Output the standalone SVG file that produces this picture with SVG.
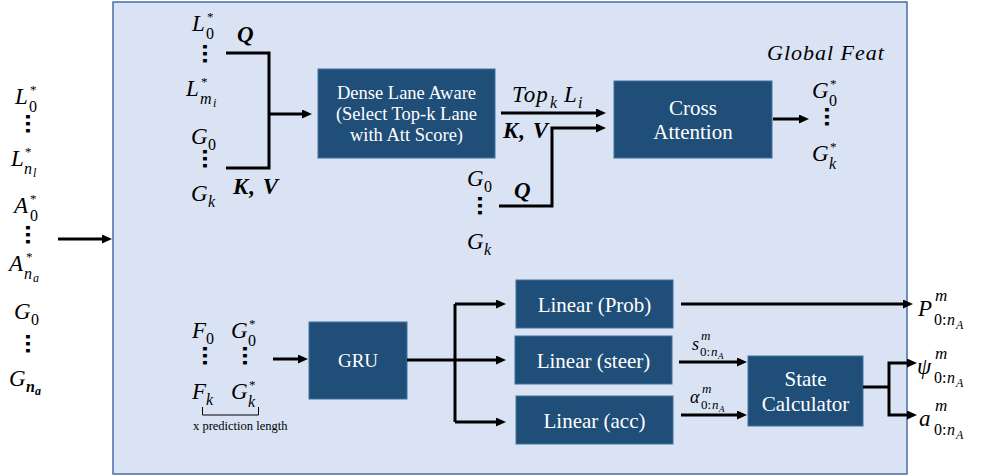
<svg xmlns="http://www.w3.org/2000/svg" width="981" height="476" viewBox="0 0 981 476">
<style>
text{font-family:"Liberation Serif",serif;fill:#000}
.m{font-style:italic;font-size:23px;letter-spacing:1px}
.s{font-size:16px;font-style:normal;letter-spacing:0}
.si{font-style:italic;font-size:16px;letter-spacing:0}
.ss{font-style:italic;font-size:12px;letter-spacing:0}
.st{font-size:13px;font-style:normal;letter-spacing:0}
.b{font-weight:bold}
.d{font-family:"Liberation Sans",sans-serif;font-weight:bold;font-size:25px;writing-mode:tb}
.box{fill:#1f4e79;stroke:#41719c;stroke-width:1}
.bt{fill:#fff;font-size:21px;text-anchor:middle}
.c{fill:none;stroke:#000;stroke-width:3}
.ca{fill:none;stroke:#000;stroke-width:3;marker-end:url(#ah)}
.t{font-size:18px;font-style:italic}
.ts{font-size:13px;font-style:italic}
.tss{font-size:9px;font-style:italic}
.tr{font-size:13px;font-style:normal}
</style>
<defs>
<marker id="ah" markerUnits="userSpaceOnUse" markerWidth="11" markerHeight="10" refX="3" refY="4.5" orient="auto">
<path d="M0,0 L10,4.5 L0,9 z" fill="#000"/>
</marker>
</defs>
<rect id="frame" x="113" y="2" width="794" height="472" fill="#dae3f3" stroke="#4a6ea8" stroke-width="1.5"/>

<g id="inputs">
<text class="m" x="15" y="104">L<tspan class="s" x="29" y="111.5">0</tspan><tspan class="st" x="30" y="94">*</tspan></text>
<text class="d" x="34.8" y="113.3">...</text>
<text class="m" x="11" y="166">L<tspan class="si" x="24" y="173.5">n</tspan><tspan class="ss" x="33" y="176.5">l</tspan><tspan class="st" x="25" y="156">*</tspan></text>
<text class="m" x="14" y="213">A<tspan class="s" x="30" y="220.5">0</tspan><tspan class="st" x="30" y="203">*</tspan></text>
<text class="d" x="34.8" y="224.3">...</text>
<text class="m" x="9" y="271">A<tspan class="si" x="24" y="278.5">n</tspan><tspan class="ss" x="33" y="281.5">a</tspan><tspan class="st" x="26" y="261">*</tspan></text>
<text class="m" x="14" y="319">G<tspan class="s" x="31" y="325">0</tspan></text>
<text class="d" x="34.8" y="333.3">...</text>
<text class="m" x="9" y="386">G<tspan class="si b" x="26" y="392">n</tspan><tspan class="ss b" x="35" y="395">a</tspan></text>
</g>

<g id="lane-inputs">
<text class="m" x="192" y="31">L<tspan class="s" x="206" y="38.5">0</tspan><tspan class="st" x="207" y="21">*</tspan></text>
<text class="m b" x="237" y="42">Q</text>
<text class="d" x="211.8" y="43.3">...</text>
<text class="m" x="186" y="96">L<tspan class="si" x="200" y="103.5">m</tspan><tspan class="ss" x="213" y="106.5">i</tspan><tspan class="st" x="201" y="86">*</tspan></text>
<text class="m" x="191" y="144">G<tspan class="s" x="208" y="150">0</tspan></text>
<text class="d" x="211.8" y="148.3">...</text>
<text class="m" x="191" y="201">G<tspan class="si" x="208" y="207">k</tspan></text>
<text class="m b" x="233" y="194">K, V</text>
</g>

<g id="dense-lane-aware">
<rect class="box" x="318" y="69" width="177" height="89"/>
<text class="bt" x="406.5" y="99" style="font-size:18.5px">Dense Lane Aware</text>
<text class="bt" x="406.5" y="120" style="font-size:18.5px">(Select Top-k Lane</text>
<text class="bt" x="406.5" y="141" style="font-size:18.5px">with Att Score)</text>
</g>

<g id="attn-labels">
<text class="m" x="512" y="102">Top<tspan class="si" x="550" y="108">k</tspan><tspan x="564" y="102">L</tspan><tspan class="si" x="578" y="108">i</tspan></text>
<text class="m b" x="503" y="138">K, V</text>
<text class="m b" x="514" y="198">Q</text>
<text class="m" x="467" y="186">G<tspan class="s" x="484" y="192">0</tspan></text>
<text class="d" x="486.8" y="195.3">...</text>
<text class="m" x="467" y="249">G<tspan class="si" x="484" y="255">k</tspan></text>
</g>

<g id="cross-attention">
<rect class="box" x="614" y="81" width="158" height="77"/>
<text class="bt" x="693" y="115">Cross</text>
<text class="bt" x="693" y="139">Attention</text>
</g>

<g id="global-feat">
<text class="m" x="767" y="60" style="font-size:22px">Global Feat</text>
<text class="m" x="812" y="98">G<tspan class="s" x="829" y="105.5">0</tspan><tspan class="st" x="830" y="88">*</tspan></text>
<text class="d" x="833.8" y="106.3">...</text>
<text class="m" x="812" y="161">G<tspan class="si" x="829" y="168.5">k</tspan><tspan class="st" x="830" y="151">*</tspan></text>
</g>

<g id="gru-inputs">
<text class="m" x="192" y="338">F<tspan class="s" x="206" y="344">0</tspan></text>
<text class="m" x="231" y="338">G<tspan class="s" x="248" y="345.5">0</tspan><tspan class="st" x="249" y="328">*</tspan></text>
<text class="d" x="211.8" y="345.3">...</text>
<text class="d" x="251.8" y="345.3">...</text>
<text class="m" x="192" y="399">F<tspan class="si" x="206" y="405">k</tspan></text>
<text class="m" x="231" y="399">G<tspan class="si" x="248" y="406.5">k</tspan><tspan class="st" x="249" y="389">*</tspan></text>
<path d="M202.5 407 V415 H258.5 V407" fill="none" stroke="#000" stroke-width="1"/>
<text x="193" y="430" style="font-size:12.5px">x prediction length</text>
</g>

<g id="gru">
<rect class="box" x="309" y="322" width="98" height="77"/>
<text class="bt" x="358" y="367" style="font-size:19px">GRU</text>
</g>

<g id="linear-prob">
<rect class="box" x="516" y="280" width="157" height="48"/>
<text class="bt" x="594.5" y="312">Linear (Prob)</text>
</g>
<g id="linear-steer">
<rect class="box" x="515" y="336" width="157" height="48"/>
<text class="bt" x="593.5" y="368">Linear (steer)</text>
</g>
<g id="linear-acc">
<rect class="box" x="516" y="396" width="157" height="48"/>
<text class="bt" x="594.5" y="428">Linear (acc)</text>
</g>

<g id="state-calculator">
<rect class="box" x="748" y="356" width="115" height="70"/>
<text class="bt" x="805.5" y="386">State</text>
<text class="bt" x="805.5" y="411">Calculator</text>
</g>

<g id="mid-labels">
<text class="t" x="692" y="350">s<tspan class="ts" x="701" y="340">m</tspan><tspan class="tr" x="700" y="356">0:</tspan><tspan class="ts" x="711" y="356">n</tspan><tspan class="tss" x="718" y="359">A</tspan></text>
<text class="t" x="690" y="403">α<tspan class="ts" x="702" y="393">m</tspan><tspan class="tr" x="701" y="409">0:</tspan><tspan class="ts" x="712" y="409">n</tspan><tspan class="tss" x="719" y="412">A</tspan></text>
</g>

<g id="outputs">
<text class="m" x="918" y="316">P<tspan class="si" x="935" y="301" style="font-size:17px">m</tspan><tspan class="s" x="934" y="325">0:</tspan><tspan class="si" x="947" y="325">n</tspan><tspan class="ss" x="956" y="329">A</tspan></text>
<text class="m" x="917" y="374">ψ<tspan class="si" x="935" y="359" style="font-size:17px">m</tspan><tspan class="s" x="934" y="383">0:</tspan><tspan class="si" x="947" y="383">n</tspan><tspan class="ss" x="956" y="387">A</tspan></text>
<text class="m" x="919" y="426">a<tspan class="si" x="935" y="411" style="font-size:17px">m</tspan><tspan class="s" x="934" y="435">0:</tspan><tspan class="si" x="947" y="435">n</tspan><tspan class="ss" x="956" y="439">A</tspan></text>
</g>

<g id="connectors">
<path class="ca" d="M58 239 H105"/>
<path class="c" d="M226 53 H269 V168 H226"/>
<path class="ca" d="M269 114 H305"/>
<path class="ca" d="M501 113 H599"/>
<path class="ca" d="M499 206 H552 V128 H599"/>
<path class="ca" d="M773 119 H802"/>
<path class="ca" d="M273 359 H301"/>
<path class="c" d="M407 360 H455"/>
<path class="c" d="M455 304 V422"/>
<path class="ca" d="M455 304 H499"/>
<path class="ca" d="M455 360 H499"/>
<path class="ca" d="M455 422 H499"/>
<path class="ca" d="M681 304 H906"/>
<path class="ca" d="M679 362 H740"/>
<path class="ca" d="M681 415 H740"/>
<path class="c" d="M863 387 H889"/>
<path class="ca" d="M889 387 V363 H910"/>
<path class="ca" d="M889 387 V415 H910"/>
</g>
</svg>
